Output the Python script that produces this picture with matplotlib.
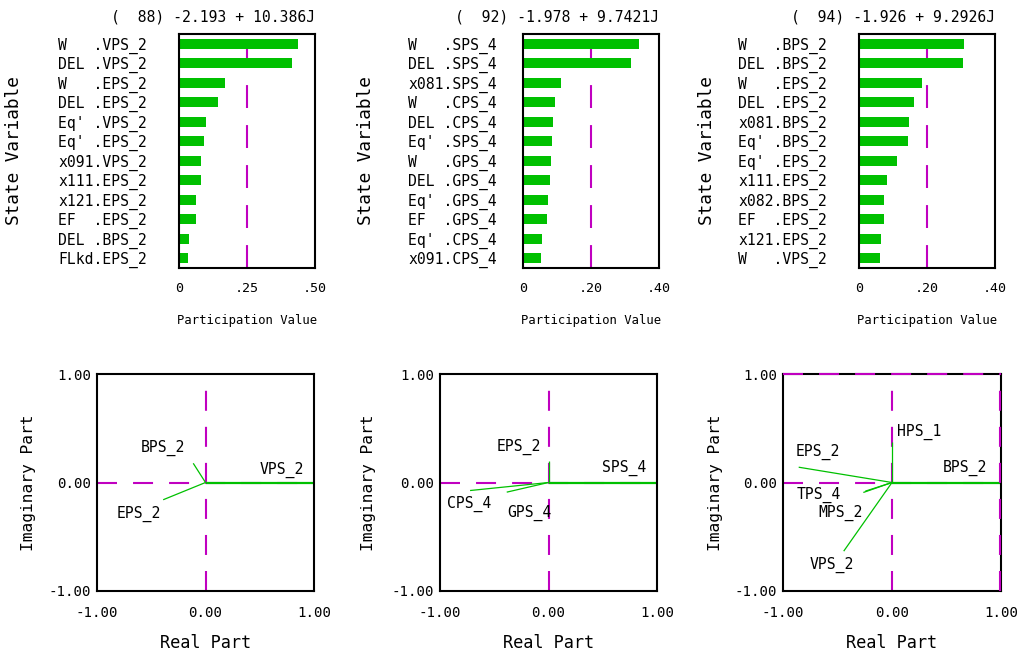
import matplotlib
matplotlib.use('Agg')
import matplotlib.pyplot as plt

GREEN = '#00c000'
MAGENTA = '#c000c0'
MONO = 'DejaVu Sans Mono'

# participation factor panels (top row)
titles = ['(  88) -2.193 + 10.386J',
          '(  92) -1.978 + 9.7421J',
          '(  94) -1.926 + 9.2926J']

labels1 = ["W   .VPS_2", "DEL .VPS_2", "W   .EPS_2", "DEL .EPS_2", "Eq' .VPS_2", "Eq' .EPS_2",
           "x091.VPS_2", "x111.EPS_2", "x121.EPS_2", "EF  .EPS_2", "DEL .BPS_2", "FLkd.EPS_2"]
vals1 = [0.437, 0.415, 0.169, 0.143, 0.099, 0.092, 0.081, 0.081, 0.0625, 0.0625, 0.037, 0.033]

labels2 = ["W   .SPS_4", "DEL .SPS_4", "x081.SPS_4", "W   .CPS_4", "DEL .CPS_4", "Eq' .SPS_4",
           "W   .GPS_4", "DEL .GPS_4", "Eq' .GPS_4", "EF  .GPS_4", "Eq' .CPS_4", "x091.CPS_4"]
vals2 = [0.341, 0.318, 0.112, 0.094, 0.088, 0.085, 0.082, 0.079, 0.074, 0.071, 0.056, 0.053]

labels3 = ["W   .BPS_2", "DEL .BPS_2", "W   .EPS_2", "DEL .EPS_2", "x081.BPS_2", "Eq' .BPS_2",
           "Eq' .EPS_2", "x111.EPS_2", "x082.BPS_2", "EF  .EPS_2", "x121.EPS_2", "W   .VPS_2"]
vals3 = [0.309, 0.306, 0.185, 0.162, 0.147, 0.144, 0.112, 0.082, 0.074, 0.074, 0.065, 0.062]

xmax = [0.50, 0.40, 0.40]
xticks = [[0, 0.25, 0.50], [0, 0.20, 0.40], [0, 0.20, 0.40]]
xticklabels = [['0', '.25', '.50'], ['0', '.20', '.40'], ['0', '.20', '.40']]

# mode shape panels (bottom row)
names1 = ['VPS_2', 'BPS_2', 'EPS_2']
re1 = [1.0, -0.113, -0.39]
im1 = [0.0, 0.177, -0.159]

names2 = ['SPS_4', 'EPS_2', 'CPS_4', 'GPS_4']
re2 = [1.0, 0.0, -0.723, -0.385]
im2 = [0.0, 0.20, -0.074, -0.089]

names3 = ['BPS_2', 'HPS_1', 'EPS_2', 'TPS_4', 'MPS_2', 'VPS_2']
re3 = [1.0, 0.0, -0.856, -0.263, -0.245, -0.443]
im3 = [0.0, 0.37, 0.141, -0.092, -0.080, -0.633]

# where the name text sits for each mode line
label_pos1 = [(0.50, 0.117), (-0.596, 0.32), (-0.817, -0.289)]
label_pos2 = [(0.493, 0.133), (-0.476, 0.332), (-0.938, -0.197), (-0.384, -0.277)]
label_pos3 = [(0.468, 0.132), (0.046, 0.468), (-0.887, 0.284), (-0.872, -0.113),
              (-0.673, -0.281), (-0.756, -0.755)]

fig = plt.figure(figsize=(10.26, 6.55), dpi=100)

top_lefts = [179, 523, 859]
ylabel_pad = [32, 26, 32]
ylabel_x = [23, 375, 716]   # pixel x of the rotated label's anchor
for i, (labels, vals) in enumerate([(labels1, vals1), (labels2, vals2), (labels3, vals3)]):
    ax = fig.add_axes([top_lefts[i] / 1026, (655 - 268) / 655, 136 / 1026, 234 / 655])
    pos = list(range(len(vals)))
    ax.barh(pos, vals, height=0.52, color=GREEN)
    ax.axvline(xmax[i] / 2, color=MAGENTA, lw=1.5, dashes=(11, 8.2), zorder=0)
    ax.set_xlim(0, xmax[i])
    ax.set_ylim(len(vals) - 0.5, -0.5)
    ax.set_yticks(pos)
    ax.set_yticklabels(labels, family=MONO, fontsize=10.6)
    ax.set_xticks(xticks[i])
    ax.set_xticklabels(xticklabels[i], family=MONO, fontsize=9.6)
    ax.tick_params(length=0)
    ax.tick_params(axis='y', pad=ylabel_pad[i] * 0.72)
    ax.tick_params(axis='x', pad=10)
    for s in ax.spines.values():
        s.set_linewidth(1.5)
    ax.set_xlabel('Participation Value', family=MONO, fontsize=8.8, labelpad=14)
    ax.set_ylabel('State Variable', family=MONO, fontsize=12.8)
    ax.yaxis.set_label_coords((ylabel_x[i] - top_lefts[i]) / 136, 0.5)
    ax.text(1.0, 1.0 + 17 / 234, titles[i], transform=ax.transAxes, ha='right', va='center',
            family=MONO, fontsize=10.6)

bot_lefts = [97, 440, 783]
bot_widths = [217, 217, 218]
bot_ylabel_x = [36, 376, 723]
modes = [(names1, re1, im1, label_pos1), (names2, re2, im2, label_pos2),
         (names3, re3, im3, label_pos3)]
for i, (names, re, im, lpos) in enumerate(modes):
    ax = fig.add_axes([bot_lefts[i] / 1026, (655 - 591) / 655, bot_widths[i] / 1026, 217 / 655])
    ax.set_xlim(-1, 1)
    ax.set_ylim(-1, 1)
    ax.axvline(0, color=MAGENTA, lw=1.5, dashes=(9.6, 7.7), zorder=1)
    ax.axhline(0, color=MAGENTA, lw=1.5, dashes=(9.6, 7.7), zorder=1)
    if i == 2:
        ax.axhline(1.0, color=MAGENTA, lw=1.5, dashes=(9.6, 7.7), zorder=3, clip_on=False)
        ax.axvline(0.99, color=MAGENTA, lw=1.5, dashes=(9.6, 7.7), zorder=3, clip_on=False)
    for k, (n, r, m) in enumerate(zip(names, re, im)):
        ax.plot([0, r], [0, m], color=GREEN, lw=1.6 if k == 0 else 0.9, zorder=2,
                solid_capstyle='butt')
        ax.text(lpos[k][0], lpos[k][1], n, ha='left', va='center', family=MONO, fontsize=10.6)
    ax.set_xticks([-1, 0, 1])
    ax.set_xticklabels(['-1.00', '0.00', '1.00'], family=MONO, fontsize=10.2)
    ax.set_yticks([-1, 0, 1])
    ax.set_yticklabels(['-1.00', '0.00', '1.00'], family=MONO, fontsize=10.2)
    ax.tick_params(length=0)
    ax.tick_params(axis='x', pad=11)
    ax.tick_params(axis='y', pad=4)
    for s in ax.spines.values():
        s.set_linewidth(1.5)
    ax.set_xlabel('Real Part', family=MONO, fontsize=12.2, labelpad=10)
    ax.set_ylabel('Imaginary Part', family=MONO, fontsize=11.7)
    ax.yaxis.set_label_coords((bot_ylabel_x[i] - bot_lefts[i]) / bot_widths[i], 0.5)

fig.savefig('out.png', dpi=100)
